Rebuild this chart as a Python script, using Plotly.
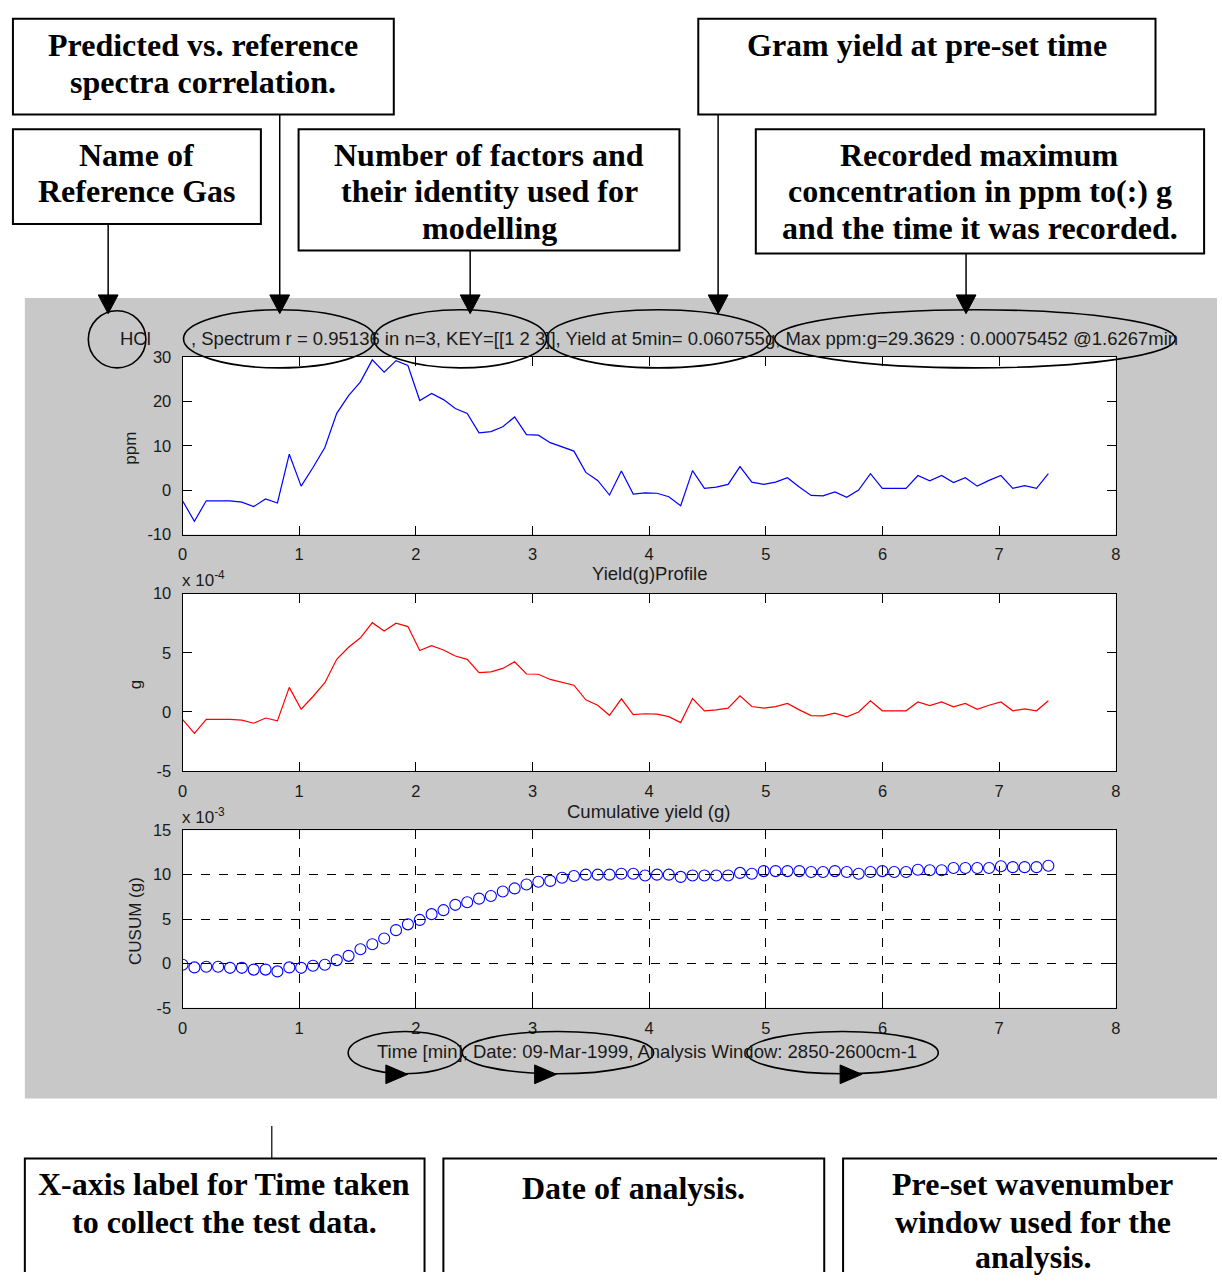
import plotly.graph_objects as go

# ---------------- data ----------------
time_min = [0, 0.1017, 0.2033, 0.305, 0.4067, 0.5083, 0.61, 0.7117, 0.8133, 0.915,
            1.0167, 1.1183, 1.22, 1.3217, 1.4233, 1.525, 1.6267, 1.7283, 1.83, 1.9317,
            2.0333, 2.135, 2.2367, 2.3383, 2.44, 2.5417, 2.6433, 2.745, 2.8467, 2.9483,
            3.05, 3.1517, 3.2533, 3.355, 3.4567, 3.5583, 3.66, 3.7617, 3.8633, 3.965,
            4.0667, 4.1683, 4.27, 4.3717, 4.4733, 4.575, 4.6767, 4.7783, 4.88, 4.9817,
            5.0833, 5.185, 5.2867, 5.3883, 5.49, 5.5917, 5.6933, 5.795, 5.8967, 5.9983,
            6.1, 6.2017, 6.3033, 6.405, 6.5067, 6.6083, 6.71, 6.8117, 6.9133, 7.015,
            7.1167, 7.2183, 7.32, 7.4217]

ppm = [-2.4, -7.0, -2.4, -2.4, -2.4, -2.7, -3.7, -2.0, -2.9, 8.1,
       0.9, 5.1, 9.6, 17.3, 21.3, 24.4, 29.36, 26.6, 29.2, 28.1,
       20.2, 21.8, 20.4, 18.4, 17.3, 12.9, 13.2, 14.3, 16.5, 12.5,
       12.4, 10.7, 9.7, 8.8, 4.0, 2.2, -1.1, 4.3, -0.9, -0.6,
       -0.7, -1.5, -3.5, 4.4, 0.4, 0.7, 1.3, 5.3, 1.8, 1.3,
       1.8, 2.8, 0.7, -1.2, -1.3, -0.4, -1.6, 0.0, 3.7, 0.4,
       0.4, 0.4, 3.3, 2.1, 3.3, 1.7, 2.8, 0.9, 2.2, 3.3,
       0.4, 1.0, 0.4, 3.7]

# yield in units of 1e-4 g
grams_e4 = [-0.62, -1.80, -0.62, -0.62, -0.62, -0.69, -0.95, -0.51, -0.75, 2.08,
            0.23, 1.31, 2.47, 4.45, 5.47, 6.27, 7.55, 6.84, 7.50, 7.22,
            5.19, 5.60, 5.24, 4.73, 4.45, 3.32, 3.39, 3.68, 4.24, 3.21,
            3.19, 2.75, 2.49, 2.26, 1.03, 0.57, -0.28, 1.11, -0.23, -0.15,
            -0.18, -0.39, -0.90, 1.13, 0.10, 0.18, 0.33, 1.36, 0.46, 0.33,
            0.46, 0.72, 0.18, -0.31, -0.33, -0.10, -0.41, 0.00, 0.95, 0.10,
            0.10, 0.10, 0.85, 0.54, 0.85, 0.44, 0.72, 0.23, 0.57, 0.85,
            0.10, 0.26, 0.10, 0.95]

# cumulative yield in units of 1e-3 g
cusum_e3 = [-0.15, -0.45, -0.37, -0.37, -0.5, -0.5, -0.7, -0.7, -0.9, -0.45,
            -0.5, -0.26, -0.15, 0.37, 0.85, 1.6, 2.15, 2.8, 3.75, 4.4,
            4.9, 5.55, 6.0, 6.6, 6.9, 7.3, 7.6, 8.1, 8.45, 8.9,
            9.2, 9.3, 9.65, 9.85, 10.0, 10.0, 10.0, 10.1, 10.1, 9.9,
            10.0, 10.0, 9.75, 9.9, 9.9, 9.9, 9.9, 10.2, 10.1, 10.4,
            10.4, 10.4, 10.4, 10.3, 10.3, 10.4, 10.3, 10.1, 10.3, 10.4,
            10.3, 10.3, 10.55, 10.5, 10.5, 10.75, 10.75, 10.75, 10.75, 10.95,
            10.85, 10.85, 10.85, 11.0]

x_ticks = [0, 1, 2, 3, 4, 5, 6, 7, 8]
x_tick_labels = ["0", "1", "2", "3", "4", "5", "6", "7", "8"]
ppm_ticks = [-10, 0, 10, 20, 30]
ppm_tick_labels = ["-10", "0", "10", "20", "30"]
g_ticks = [-5, 0, 5, 10]
g_tick_labels = ["-5", "0", "5", "10"]
cusum_ticks = [-5, 0, 5, 10, 15]
cusum_tick_labels = ["-5", "0", "5", "10", "15"]

title_gas = "HCl"
title_text = (", Spectrum r = 0.95136 in n=3, KEY=[[1 2 3]], Yield at 5min= 0.060755g, "
              "Max ppm:g=29.3629 : 0.00075452 @1.6267min")
xlabel1 = "Yield(g)Profile"
xlabel2 = "Cumulative yield (g)"
xlabel3 = "Time [min], Date: 09-Mar-1999, Analysis Window: 2850-2600cm-1"

# ---------------- layout helpers ----------------
W, H = 1222, 1281


def px(x):
    return x / W


def py(y):
    return 1 - y / H


MFONT = "Liberation Sans, Arial, sans-serif"
SFONT = "Liberation Serif, Times New Roman, serif"
TXT = "#1a1a1a"

fig = go.Figure()
fig.add_trace(go.Scatter(x=time_min, y=ppm, mode="lines",
                         line=dict(color="#0000ff", width=1.2),
                         xaxis="x", yaxis="y", showlegend=False, hoverinfo="skip"))
fig.add_trace(go.Scatter(x=time_min, y=grams_e4, mode="lines",
                         line=dict(color="#ff0000", width=1.2),
                         xaxis="x2", yaxis="y2", showlegend=False, hoverinfo="skip"))
fig.add_trace(go.Scatter(x=time_min, y=cusum_e3, mode="markers",
                         marker=dict(symbol="circle-open", size=11,
                                     color="#0000ff", line=dict(width=1.1, color="#0000ff")),
                         xaxis="x3", yaxis="y3", showlegend=False, hoverinfo="skip"))

xdom = [px(179), px(1120)]
plots = [(353, 533), (593, 773), (833, 1013)]


def xaxis_cfg(anchor, grid=False):
    return dict(domain=xdom, anchor=anchor, range=[0, 8], tickvals=x_ticks,
                ticktext=x_tick_labels,
                ticks="inside", ticklen=9, tickcolor="black", tickwidth=1,
                showline=True, linecolor="black", linewidth=1, mirror="allticks",
                showgrid=grid, gridcolor="black", griddash="dash", gridwidth=1,
                zeroline=False, ticklabelstandoff=5, fixedrange=True,
                tickfont=dict(family=MFONT, size=16.5, color=TXT))


def yaxis_cfg(anchor, dom, rng, tv, tt, grid=False):
    return dict(domain=dom, anchor=anchor, range=rng, tickvals=tv, ticktext=tt,
                ticks="inside", ticklen=9, tickcolor="black", tickwidth=1,
                showline=True, linecolor="black", linewidth=1, mirror="allticks",
                showgrid=grid, gridcolor="black", griddash="dash", gridwidth=1,
                zeroline=False, ticklabelstandoff=7, fixedrange=True,
                tickfont=dict(family=MFONT, size=16.5, color=TXT))


shapes = []
# grey figure panel and white axes backgrounds
shapes.append(dict(type="rect", xref="paper", yref="paper", x0=px(20), x1=1,
                   y0=py(1105), y1=py(293), fillcolor="#c8c8c8", line=dict(width=0),
                   layer="below"))
for (t, b) in plots:
    shapes.append(dict(type="rect", xref="paper", yref="paper", x0=xdom[0], x1=xdom[1],
                       y0=py(b), y1=py(t), fillcolor="white", line=dict(width=0),
                       layer="below"))

# explanation boxes (all kept inside the page)
boxes = [(8, 10, 392, 107), (699, 10, 1160, 107), (8, 122, 258, 218),
         (296, 122, 680, 245), (757, 122, 1209, 248)]
for (x0, y0, x1, y1) in boxes:
    shapes.append(dict(type="rect", xref="paper", yref="paper", x0=px(x0), x1=px(x1),
                       y0=py(y1), y1=py(y0), line=dict(color="black", width=2),
                       fillcolor="rgba(0,0,0,0)"))
# bottom boxes are cut by the page edge: draw only their visible sides
open_boxes = [(20, 423, True), (442, 826, True), (845, 1222, False)]
for (x0, x1, right_side) in open_boxes:
    path = f"M {px(x0)},{py(1281)} L {px(x0)},{py(1166)} L {px(x1)},{py(1166)}"
    if right_side:
        path += f" L {px(x1)},{py(1281)}"
    shapes.append(dict(type="path", xref="paper", yref="paper", path=path,
                       line=dict(color="black", width=2)))

# downward arrows from the top boxes
arrows = [(104, 218), (277, 107), (469, 245), (719, 107), (969, 248)]
for (ax, ay) in arrows:
    shapes.append(dict(type="line", xref="paper", yref="paper", x0=px(ax), x1=px(ax),
                       y0=py(ay), y1=py(292), line=dict(color="black", width=1.5)))
    shapes.append(dict(type="path", xref="paper", yref="paper",
                       path=f"M {px(ax-10)},{py(290)} L {px(ax+10)},{py(290)} L {px(ax)},{py(309)} Z",
                       fillcolor="black", line=dict(color="black", width=1)))

# line above bottom-left box
shapes.append(dict(type="line", xref="paper", yref="paper", x0=px(269), x1=px(269),
                   y0=py(1166), y1=py(1133), line=dict(color="black", width=1.2)))

# ellipses around title parts
ellipses = [(84, 306, 142, 364), (180, 305, 373, 364), (372, 305, 546, 364),
            (546, 305, 772, 364), (776, 305, 1180, 364),
            (346, 1037, 461, 1080), (461, 1037, 654, 1080), (748, 1037, 941, 1080)]
for (x0, y0, x1, y1) in ellipses:
    shapes.append(dict(type="circle", xref="paper", yref="paper", x0=px(x0), x1=px(x1),
                       y0=py(y1), y1=py(y0), line=dict(color="black", width=1.6)))

# right-pointing arrowheads at the bottom ellipses
for tipx in [406, 556, 864]:
    shapes.append(dict(type="path", xref="paper", yref="paper",
                       path=f"M {px(tipx-22)},{py(1071)} L {px(tipx-22)},{py(1090)} L {px(tipx)},{py(1080.5)} Z",
                       fillcolor="black", line=dict(color="black", width=1)))

annotations = []


def ann(text, x, y, size=18.5, family=MFONT, xanchor="center", yanchor="middle",
        angle=0, weight="normal", color=TXT):
    annotations.append(dict(text=text, x=px(x), y=py(y), xref="paper", yref="paper",
                            showarrow=False, xanchor=xanchor, yanchor=yanchor,
                            textangle=angle,
                            font=dict(family=family, size=size, color=color, weight=weight)))


# box texts
B = dict(size=32, family=SFONT, weight="bold", color="black")
ann("Predicted vs. reference", 200, 37, **B)
ann("spectra correlation.", 200, 74, **B)
ann("Gram yield at pre-set time", 930, 37, **B)
ann("Name of", 133, 148, **B)
ann("Reference Gas", 133, 185, **B)
ann("Number of factors and", 488, 148, **B)
ann("their identity used for", 488, 185, **B)
ann("modelling", 488, 222, **B)
ann("Recorded maximum", 983, 148, **B)
ann("concentration in ppm to(:) g", 983, 185, **B)
ann("and the time it was recorded.", 983, 222, **B)
ann("X-axis label for Time taken", 221, 1192, **B)
ann("to collect the test data.", 221, 1230, **B)
ann("Date of analysis.", 634, 1196, **B)
ann("Pre-set wavenumber", 1036, 1192, **B)
ann("window used for the", 1036, 1230, **B)
ann("analysis.", 1036, 1266, **B)

# figure title texts
ann(title_gas, 132, 334)
ann(title_text, 685, 334)

# axis labels
ann("ppm", 127, 445, size=17, angle=-90)
ann("g", 131, 685, size=17, angle=-90)
ann("CUSUM (g)", 131, 925, size=17, angle=-90)
ann(xlabel1, 650, 573)
ann(xlabel2, 649, 814)
ann(xlabel3, 647, 1057)
ann("x 10<sup>-4</sup>", 176, 578, size=17, xanchor="left")
ann("x 10<sup>-3</sup>", 176, 818, size=17, xanchor="left")

fig.update_layout(
    autosize=True, margin=dict(l=0, r=0, t=0, b=0, pad=0),
    paper_bgcolor="white", plot_bgcolor="white", showlegend=False,
    hovermode=False, dragmode=False,
    xaxis=xaxis_cfg("y"),
    yaxis=yaxis_cfg("x", [py(533), py(353)], [-10, 30], ppm_ticks, ppm_tick_labels),
    xaxis2=xaxis_cfg("y2"),
    yaxis2=yaxis_cfg("x2", [py(773), py(593)], [-5, 10], g_ticks, g_tick_labels),
    xaxis3=xaxis_cfg("y3", grid=True),
    yaxis3=yaxis_cfg("x3", [py(1013), py(833)], [-5, 15], cusum_ticks, cusum_tick_labels,
                     grid=True),
    shapes=shapes, annotations=annotations,
)

fig.write_html("out.html",
               default_width="100vw", default_height="100vh",
               config={"displayModeBar": False, "staticPlot": True, "responsive": True},
               post_script="document.documentElement.style.margin='0';"
                           "document.documentElement.style.overflow='hidden';"
                           "document.body.style.margin='0';"
                           "document.body.style.padding='0';"
                           "document.body.style.overflow='hidden';")
